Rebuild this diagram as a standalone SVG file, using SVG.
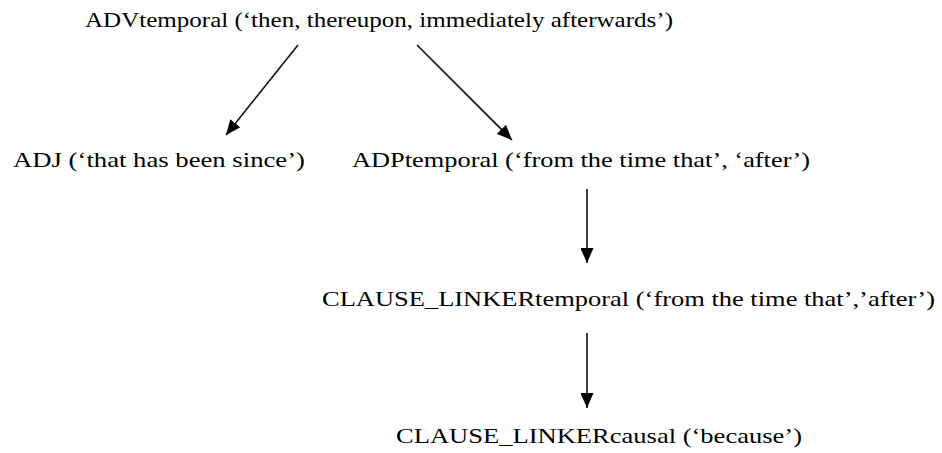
<svg xmlns="http://www.w3.org/2000/svg" width="942" height="453" viewBox="0 0 942 453">
  <style>
    .lbl { font-family: "Liberation Serif", "Times New Roman", serif; font-size: 22px; fill: #000; }
    .edge { stroke: #111; stroke-width: 1.6; fill: none; marker-end: url(#head); }
  </style>
  <defs>
    <marker id="head" markerUnits="userSpaceOnUse" markerWidth="15" markerHeight="13" refX="15" refY="6.5" orient="auto">
      <path d="M0,0 L15,6.5 L0,13 Z" fill="#000"/>
    </marker>
  </defs>
  <rect width="942" height="453" fill="#fff"/>

  <g id="connectors">
    <line class="edge" x1="298" y1="45" x2="226" y2="135"/>
    <line class="edge" x1="417" y1="45" x2="512" y2="140"/>
    <line class="edge" x1="587" y1="189" x2="587" y2="263"/>
    <line class="edge" x1="587" y1="333" x2="587" y2="408"/>
  </g>

  <g id="adv-temporal">
    <text class="lbl" x="85" y="27" textLength="588" lengthAdjust="spacingAndGlyphs">ADVtemporal (‘then, thereupon, immediately afterwards’)</text>
  </g>
  <g id="adj">
    <text class="lbl" x="13" y="167" textLength="292" lengthAdjust="spacingAndGlyphs">ADJ (‘that has been since’)</text>
  </g>
  <g id="adp-temporal">
    <text class="lbl" x="352" y="167" textLength="458" lengthAdjust="spacingAndGlyphs">ADPtemporal (‘from the time that’, ‘after’)</text>
  </g>
  <g id="clause-linker-temporal">
    <text class="lbl" x="322" y="306" textLength="613" lengthAdjust="spacingAndGlyphs">CLAUSE_LINKERtemporal (‘from the time that’,’after’)</text>
  </g>
  <g id="clause-linker-causal">
    <text class="lbl" x="396" y="443" textLength="406" lengthAdjust="spacingAndGlyphs">CLAUSE_LINKERcausal (‘because’)</text>
  </g>
</svg>
